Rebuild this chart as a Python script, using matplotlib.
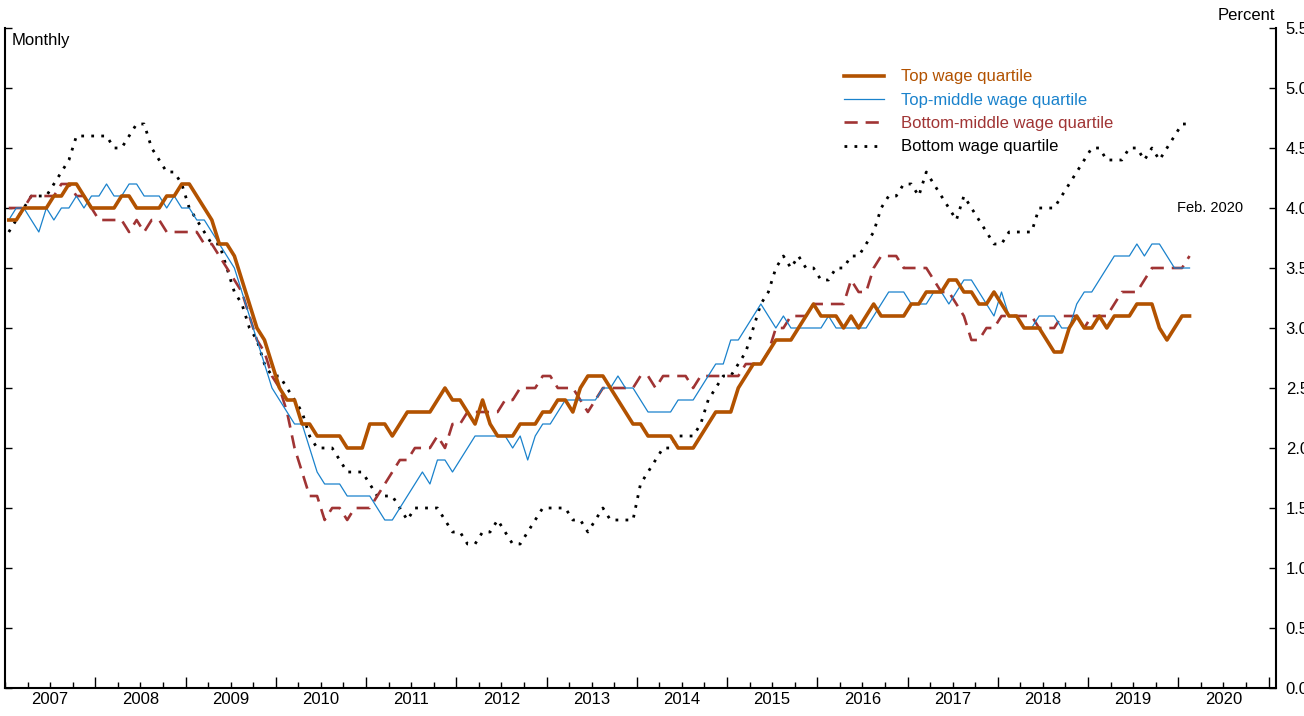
import numpy as np
import matplotlib
matplotlib.use("Agg")
import matplotlib.pyplot as plt
from matplotlib.ticker import FixedLocator, NullFormatter, FormatStrFormatter

plt.rcParams['font.family'] = ['Liberation Sans', 'DejaVu Sans']

# monthly, Jan 2007 .. Feb 2020 (158 months), percent
top_q = [3.9, 3.9, 4.0, 4.0, 4.0, 4.0, 4.1, 4.1, 4.2, 4.2,
         4.1, 4.0, 4.0, 4.0, 4.0, 4.1, 4.1, 4.0, 4.0, 4.0,
         4.0, 4.1, 4.1, 4.2, 4.2, 4.1, 4.0, 3.9, 3.7, 3.7,
         3.6, 3.4, 3.2, 3.0, 2.9, 2.7, 2.5, 2.4, 2.4, 2.2,
         2.2, 2.1, 2.1, 2.1, 2.1, 2.0, 2.0, 2.0, 2.2, 2.2,
         2.2, 2.1, 2.2, 2.3, 2.3, 2.3, 2.3, 2.4, 2.5, 2.4,
         2.4, 2.3, 2.2, 2.4, 2.2, 2.1, 2.1, 2.1, 2.2, 2.2,
         2.2, 2.3, 2.3, 2.4, 2.4, 2.3, 2.5, 2.6, 2.6, 2.6,
         2.5, 2.4, 2.3, 2.2, 2.2, 2.1, 2.1, 2.1, 2.1, 2.0,
         2.0, 2.0, 2.1, 2.2, 2.3, 2.3, 2.3, 2.5, 2.6, 2.7,
         2.7, 2.8, 2.9, 2.9, 2.9, 3.0, 3.1, 3.2, 3.1, 3.1,
         3.1, 3.0, 3.1, 3.0, 3.1, 3.2, 3.1, 3.1, 3.1, 3.1,
         3.2, 3.2, 3.3, 3.3, 3.3, 3.4, 3.4, 3.3, 3.3, 3.2,
         3.2, 3.3, 3.2, 3.1, 3.1, 3.0, 3.0, 3.0, 2.9, 2.8,
         2.8, 3.0, 3.1, 3.0, 3.0, 3.1, 3.0, 3.1, 3.1, 3.1,
         3.2, 3.2, 3.2, 3.0, 2.9, 3.0, 3.1, 3.1]

top_mid_q = [3.9, 4.0, 4.0, 3.9, 3.8, 4.0, 3.9, 4.0, 4.0, 4.1,
             4.0, 4.1, 4.1, 4.2, 4.1, 4.1, 4.2, 4.2, 4.1, 4.1,
             4.1, 4.0, 4.1, 4.0, 4.0, 3.9, 3.9, 3.8, 3.7, 3.6,
             3.5, 3.3, 3.1, 2.9, 2.7, 2.5, 2.4, 2.3, 2.2, 2.2,
             2.0, 1.8, 1.7, 1.7, 1.7, 1.6, 1.6, 1.6, 1.6, 1.5,
             1.4, 1.4, 1.5, 1.6, 1.7, 1.8, 1.7, 1.9, 1.9, 1.8,
             1.9, 2.0, 2.1, 2.1, 2.1, 2.1, 2.1, 2.0, 2.1, 1.9,
             2.1, 2.2, 2.2, 2.3, 2.4, 2.4, 2.4, 2.4, 2.4, 2.5,
             2.5, 2.6, 2.5, 2.5, 2.4, 2.3, 2.3, 2.3, 2.3, 2.4,
             2.4, 2.4, 2.5, 2.6, 2.7, 2.7, 2.9, 2.9, 3.0, 3.1,
             3.2, 3.1, 3.0, 3.1, 3.0, 3.0, 3.0, 3.0, 3.0, 3.1,
             3.0, 3.0, 3.0, 3.0, 3.0, 3.1, 3.2, 3.3, 3.3, 3.3,
             3.2, 3.2, 3.2, 3.3, 3.3, 3.2, 3.3, 3.4, 3.4, 3.3,
             3.2, 3.1, 3.3, 3.1, 3.1, 3.0, 3.0, 3.1, 3.1, 3.1,
             3.0, 3.0, 3.2, 3.3, 3.3, 3.4, 3.5, 3.6, 3.6, 3.6,
             3.7, 3.6, 3.7, 3.7, 3.6, 3.5, 3.5, 3.5]

bot_mid_q = [4.0, 4.0, 4.0, 4.1, 4.1, 4.1, 4.1, 4.2, 4.2, 4.1,
             4.1, 4.0, 3.9, 3.9, 3.9, 3.9, 3.8, 3.9, 3.8, 3.9,
             3.9, 3.8, 3.8, 3.8, 3.8, 3.8, 3.7, 3.7, 3.6, 3.5,
             3.4, 3.3, 3.1, 2.9, 2.8, 2.6, 2.5, 2.3, 2.0, 1.8,
             1.6, 1.6, 1.4, 1.5, 1.5, 1.4, 1.5, 1.5, 1.5, 1.6,
             1.7, 1.8, 1.9, 1.9, 2.0, 2.0, 2.0, 2.1, 2.0, 2.2,
             2.2, 2.3, 2.3, 2.3, 2.3, 2.3, 2.4, 2.4, 2.5, 2.5,
             2.5, 2.6, 2.6, 2.5, 2.5, 2.5, 2.4, 2.3, 2.4, 2.5,
             2.5, 2.5, 2.5, 2.5, 2.6, 2.6, 2.5, 2.6, 2.6, 2.6,
             2.6, 2.5, 2.6, 2.6, 2.6, 2.6, 2.6, 2.6, 2.7, 2.7,
             2.7, 2.8, 3.0, 3.0, 3.1, 3.1, 3.1, 3.2, 3.2, 3.2,
             3.2, 3.2, 3.4, 3.3, 3.3, 3.5, 3.6, 3.6, 3.6, 3.5,
             3.5, 3.5, 3.5, 3.4, 3.3, 3.3, 3.2, 3.1, 2.9, 2.9,
             3.0, 3.0, 3.1, 3.1, 3.1, 3.1, 3.1, 3.0, 3.0, 3.0,
             3.1, 3.1, 3.1, 3.0, 3.1, 3.1, 3.1, 3.2, 3.3, 3.3,
             3.3, 3.4, 3.5, 3.5, 3.5, 3.5, 3.5, 3.6]

bottom_q = [3.8, 3.9, 4.0, 4.1, 4.1, 4.1, 4.2, 4.3, 4.4, 4.6,
            4.6, 4.6, 4.6, 4.6, 4.5, 4.5, 4.6, 4.7, 4.7, 4.5,
            4.4, 4.3, 4.3, 4.2, 4.0, 3.9, 3.8, 3.7, 3.7, 3.5,
            3.3, 3.2, 3.0, 2.9, 2.7, 2.6, 2.6, 2.5, 2.4, 2.3,
            2.1, 2.0, 2.0, 2.0, 1.9, 1.8, 1.8, 1.8, 1.7, 1.6,
            1.6, 1.6, 1.5, 1.4, 1.5, 1.5, 1.5, 1.5, 1.4, 1.3,
            1.3, 1.2, 1.2, 1.3, 1.3, 1.4, 1.3, 1.2, 1.2, 1.3,
            1.4, 1.5, 1.5, 1.5, 1.5, 1.4, 1.4, 1.3, 1.4, 1.5,
            1.4, 1.4, 1.4, 1.4, 1.7, 1.8, 1.9, 2.0, 2.0, 2.1,
            2.1, 2.1, 2.2, 2.4, 2.5, 2.6, 2.6, 2.7, 2.8, 3.0,
            3.2, 3.3, 3.5, 3.6, 3.5, 3.6, 3.5, 3.5, 3.4, 3.4,
            3.5, 3.5, 3.6, 3.6, 3.7, 3.8, 4.0, 4.1, 4.1, 4.2,
            4.2, 4.1, 4.3, 4.2, 4.1, 4.0, 3.9, 4.1, 4.0, 3.9,
            3.8, 3.7, 3.7, 3.8, 3.8, 3.8, 3.8, 4.0, 4.0, 4.0,
            4.1, 4.2, 4.3, 4.4, 4.5, 4.5, 4.4, 4.4, 4.4, 4.5,
            4.5, 4.4, 4.5, 4.4, 4.5, 4.6, 4.7, 4.7]

years = list(range(2007, 2021))
months = 2007 + (np.arange(len(top_q)) + 0.5) / 12.0

ORANGE = '#B25200'
BLUE = '#1A82CC'
RED = '#A03434'
BLACK = '#000000'

W, H = 1304, 716
fig = plt.figure(figsize=(W / 100, H / 100), dpi=100)
ax = fig.add_axes([5 / W, 28 / H, (1276 - 5) / W, (688 - 28) / H])

ax.plot(months, bottom_q, color=BLACK, lw=2.0, ls=(0, (1, 2.6)),
        label='Bottom wage quartile', zorder=2)
ax.plot(months, bot_mid_q, color=RED, lw=1.9, ls=(0, (5, 3)),
        label='Bottom-middle wage quartile', zorder=3)
ax.plot(months, top_mid_q, color=BLUE, lw=0.9,
        label='Top-middle wage quartile', zorder=4)
ax.plot(months, top_q, color=ORANGE, lw=2.6,
        label='Top wage quartile', zorder=5)

ax.set_xlim(2007.0, 2007 + (1276 - 5) / 90.25)
ax.set_ylim(0, 5.5)

# spines
ax.spines['top'].set_visible(False)
for s in ['left', 'right', 'bottom']:
    ax.spines[s].set_linewidth(1.5)

# y axis on the right, ticks on both sides pointing in
ax.yaxis.set_major_locator(FixedLocator(np.arange(0, 5.51, 0.5)))
ax.yaxis.set_major_formatter(FormatStrFormatter('%.1f'))
ax.tick_params(axis='y', which='both', direction='in', length=5, width=1,
               left=True, right=True, labelleft=False, labelright=True,
               labelsize=12, pad=7)

# x axis: year boundaries (major), quarters (minor), labels mid-year
ax.xaxis.set_major_locator(FixedLocator(years[1:] + [2021]))
ax.xaxis.set_minor_locator(FixedLocator(np.arange(2007, 2021.01, 0.25)))
ax.xaxis.set_major_formatter(NullFormatter())
ax.tick_params(axis='x', which='major', direction='in', length=8, width=1)
ax.tick_params(axis='x', which='minor', direction='in', length=4, width=1)
for yr in years:
    ax.annotate(str(yr), xy=(yr + 0.5, 0), xycoords=('data', 'axes fraction'),
                xytext=(0, -3), textcoords='offset points',
                ha='center', va='top', fontsize=12)

fig.text(12 / W, 1 - 40 / H, 'Monthly', ha='left', va='center', fontsize=12)
fig.text(1275 / W, 1 - 15 / H, 'Percent', ha='right', va='center', fontsize=12)
ax.text(2020.35, 4.0, 'Feb. 2020', ha='center', va='center', fontsize=10.5)

handles, labels = ax.get_legend_handles_labels()
order = [3, 2, 1, 0]
leg = ax.legend([handles[i] for i in order], [labels[i] for i in order],
                loc='upper left', bbox_to_anchor=(836 / W, 1 - 61 / H),
                bbox_transform=fig.transFigure, frameon=False, fontsize=12,
                handlelength=2.4, handletextpad=1.0, labelspacing=0.5,
                borderpad=0)
for txt, col in zip(leg.get_texts(), [ORANGE, BLUE, RED, BLACK]):
    txt.set_color(col)

fig.savefig('out.png', dpi=100)
